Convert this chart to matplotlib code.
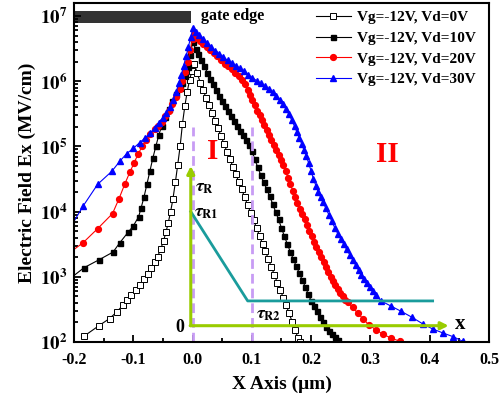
import numpy as np
import matplotlib
matplotlib.use("Agg")
import matplotlib.pyplot as plt
from matplotlib.ticker import MultipleLocator, LogLocator, NullFormatter, FuncFormatter

plt.rcParams['font.family'] = ['Liberation Serif', 'DejaVu Serif']
plt.rcParams['font.weight'] = 'bold'
plt.rcParams['mathtext.fontset'] = 'stix'

# x position (um) and log10 of the field for each bias
# Vd = 0 V
x_vd0 = [-0.183, -0.158, -0.140, -0.128, -0.118, -0.110, -0.103, -0.096, -0.089, -0.082,
         -0.076, -0.070, -0.064, -0.059, -0.054, -0.049, -0.045, -0.041, -0.037, -0.033,
         -0.029, -0.025, -0.021, -0.017, -0.013, -0.009, -0.005, -0.001, 0.003,
         0.008, 0.013, 0.018, 0.023, 0.028, 0.033, 0.038, 0.043, 0.048, 0.053,
         0.058, 0.063, 0.068, 0.073, 0.078, 0.083, 0.088, 0.093, 0.098, 0.103,
         0.108, 0.113, 0.118, 0.123, 0.128, 0.133, 0.138, 0.143, 0.148, 0.153,
         0.158, 0.163, 0.168, 0.173, 0.178, 0.181]
e_vd0 = [2.09, 2.25, 2.36, 2.46, 2.56, 2.64, 2.72, 2.79, 2.87, 2.96,
         3.04, 3.13, 3.22, 3.31, 3.42, 3.55, 3.68, 3.83, 4.00, 4.20,
         4.45, 4.72, 5.00, 5.35, 5.62, 5.84, 6.02, 6.16, 6.27,
         6.12, 5.98, 5.86, 5.74, 5.63, 5.51, 5.39, 5.28, 5.16, 5.04,
         4.92, 4.81, 4.69, 4.57, 4.46, 4.34, 4.22, 4.10, 3.98, 3.87,
         3.75, 3.63, 3.51, 3.39, 3.27, 3.15, 3.03, 2.91, 2.80, 2.68,
         2.56, 2.44, 2.31, 2.18, 2.06, 2.00]

# Vd = 10 V
x_vd10 = [-0.200, -0.183, -0.158, -0.134, -0.123, -0.109, -0.100, -0.091, -0.087, -0.082,
          -0.077, -0.072, -0.067, -0.062, -0.057, -0.052, -0.046, -0.040, -0.034, -0.028,
          -0.022, -0.017, -0.012, -0.008, -0.004, 0.000,
          0.005, 0.010, 0.015, 0.020, 0.025, 0.030, 0.035, 0.040, 0.045, 0.050,
          0.055, 0.060, 0.065, 0.070, 0.075, 0.080, 0.085, 0.090, 0.095, 0.100,
          0.105, 0.110, 0.115, 0.120, 0.125, 0.130, 0.135, 0.140, 0.145, 0.150,
          0.155, 0.160, 0.165, 0.170, 0.175, 0.180, 0.185, 0.190, 0.195, 0.200,
          0.205, 0.210, 0.215, 0.220, 0.225, 0.230, 0.235, 0.240, 0.245]
e_vd10 = [3.02, 3.14, 3.26, 3.38, 3.52, 3.68, 3.78, 3.92, 4.05, 4.22,
          4.42, 4.62, 4.82, 5.00, 5.17, 5.32, 5.45, 5.57, 5.69, 5.80,
          5.90, 5.98, 6.08, 6.22, 6.40, 6.60,
          6.50, 6.41, 6.32, 6.23, 6.13, 6.04, 5.95, 5.86, 5.77, 5.69,
          5.62, 5.55, 5.47, 5.39, 5.31, 5.24, 5.17, 5.10, 5.02, 4.93,
          4.80, 4.68, 4.56, 4.45, 4.35, 4.24, 4.12, 4.00, 3.88, 3.75,
          3.62, 3.50, 3.38, 3.27, 3.16, 3.06, 2.95, 2.85, 2.74, 2.63,
          2.55, 2.47, 2.39, 2.31, 2.23, 2.17, 2.12, 2.07, 2.03]

# Vd = 20 V
x_vd20 = [-0.200, -0.185, -0.160, -0.135, -0.124, -0.114, -0.106, -0.099, -0.092, -0.085,
          -0.078, -0.071, -0.064, -0.058, -0.052, -0.046, -0.040, -0.034, -0.028, -0.022,
          -0.017, -0.012, -0.008, -0.004, 0.000, 0.003,
          0.008, 0.013, 0.018, 0.024, 0.030, 0.036, 0.042, 0.048, 0.054, 0.060,
          0.066, 0.072, 0.078, 0.084, 0.089, 0.093, 0.097, 0.101, 0.105, 0.109,
          0.113, 0.117, 0.121, 0.125, 0.129, 0.133, 0.137, 0.141, 0.145, 0.149,
          0.153, 0.157, 0.161, 0.165, 0.169, 0.173, 0.177, 0.181, 0.185, 0.189,
          0.193, 0.197, 0.201, 0.205, 0.209, 0.213, 0.217, 0.221, 0.225, 0.229,
          0.233, 0.237, 0.241, 0.245, 0.249, 0.253, 0.257, 0.262, 0.270, 0.279,
          0.288, 0.298, 0.309, 0.321, 0.335, 0.350]
e_vd20 = [3.42, 3.52, 3.74, 3.97, 4.20, 4.43, 4.60, 4.74, 4.88, 5.00,
          5.10, 5.19, 5.26, 5.32, 5.38, 5.46, 5.55, 5.65, 5.76, 5.88,
          6.00, 6.14, 6.30, 6.48, 6.64, 6.72,
          6.67, 6.62, 6.57, 6.52, 6.48, 6.43, 6.38, 6.32, 6.27, 6.23,
          6.18, 6.13, 6.08, 6.02, 5.95, 5.87, 5.79, 5.71, 5.63, 5.55,
          5.48, 5.40, 5.33, 5.25, 5.18, 5.10, 5.02, 4.95, 4.87, 4.79,
          4.71, 4.62, 4.52, 4.42, 4.32, 4.22, 4.13, 4.04, 3.96, 3.88,
          3.79, 3.71, 3.63, 3.54, 3.46, 3.38, 3.30, 3.22, 3.15, 3.07,
          3.00, 2.93, 2.87, 2.81, 2.75, 2.70, 2.65, 2.61, 2.53, 2.44,
          2.35, 2.26, 2.19, 2.12, 2.06, 2.01]

# Vd = 30 V
x_vd30 = [-0.200, -0.185, -0.160, -0.136, -0.123, -0.111, -0.100, -0.089, -0.080, -0.072,
          -0.064, -0.057, -0.050, -0.044, -0.038, -0.033, -0.028, -0.023, -0.019, -0.015,
          -0.011, -0.007, -0.003, 0.001,
          0.006, 0.011, 0.017, 0.024, 0.031, 0.038, 0.045, 0.052, 0.059, 0.066,
          0.073, 0.080, 0.087, 0.094, 0.101, 0.108, 0.115, 0.122, 0.129, 0.135,
          0.141, 0.147, 0.152, 0.157, 0.162, 0.167, 0.172, 0.176, 0.180, 0.184,
          0.188, 0.192, 0.196, 0.200, 0.204, 0.208, 0.212, 0.216, 0.220, 0.225,
          0.230, 0.235, 0.240, 0.245, 0.250, 0.255, 0.260, 0.265, 0.270, 0.275,
          0.280, 0.285, 0.290, 0.295, 0.300, 0.305, 0.310, 0.318, 0.335, 0.352,
          0.370, 0.388, 0.405, 0.422, 0.440, 0.456]
e_vd30 = [3.85, 4.08, 4.42, 4.62, 4.77, 4.89, 4.97, 5.06, 5.13, 5.20,
          5.28, 5.36, 5.44, 5.52, 5.61, 5.71, 5.83, 5.97, 6.10, 6.24,
          6.38, 6.53, 6.68, 6.82,
          6.76, 6.71, 6.65, 6.59, 6.53, 6.47, 6.42, 6.37, 6.32, 6.28,
          6.24, 6.20, 6.15, 6.10, 6.05, 6.01, 5.97, 5.93, 5.88, 5.83,
          5.77, 5.71, 5.65, 5.58, 5.50, 5.41, 5.31, 5.22, 5.13, 5.04,
          4.94, 4.85, 4.74, 4.62, 4.50, 4.40, 4.30, 4.22, 4.14, 4.05,
          3.95, 3.85, 3.75, 3.66, 3.58, 3.50, 3.42, 3.34, 3.26, 3.18,
          3.10, 3.03, 2.96, 2.90, 2.84, 2.78, 2.72, 2.63, 2.55, 2.47,
          2.38, 2.28, 2.20, 2.14, 2.08, 2.01]

labels = ['Vg=-12V, Vd=0V', 'Vg=-12V, Vd=10V', 'Vg=-12V, Vd=20V', 'Vg=-12V, Vd=30V']

fig = plt.figure(figsize=(5.02, 3.98), dpi=100)
ax = fig.add_axes([0.1474, 0.1407, 0.8266, 0.8518])

ax.plot(x_vd0, 10 ** np.array(e_vd0), color='black', lw=0.8, marker='s', ms=3.8,
        mfc='white', mec='black', mew=0.7, label=labels[0])
ax.plot(x_vd10, 10 ** np.array(e_vd10), color='black', lw=0.8, marker='s', ms=3.6,
        markevery=slice(1, None), label=labels[1])
ax.plot(x_vd20, 10 ** np.array(e_vd20), color='red', lw=0.8, marker='o', ms=4.2,
        markevery=slice(1, None), label=labels[2])
ax.plot(x_vd30, 10 ** np.array(e_vd30), color='blue', lw=0.8, marker='^', ms=4.8,
        markevery=slice(1, None), label=labels[3])

ax.set_yscale('log')
ax.set_xlim(-0.2, 0.5)
ax.set_ylim(1e2, 10 ** 7.2)

# gate edge bar
ax.fill_between([-0.2, -0.002], 10 ** 6.89, 10 ** 7.07, color='#333333', lw=0)
ax.text(0.014, 10 ** 7.0, 'gate edge', fontsize=11.5, fontweight='bold', va='center', ha='left')

# dashed region borders
for xv in [0.0, 0.1]:
    ax.plot([xv, xv], [1e2, 10 ** 5.3], color='#c89cf4', lw=2, dashes=(3.5, 1.8))

# sketch of the relaxation time
green = '#99cc00'
ax.annotate('', xy=(-0.003, 10 ** 4.7), xytext=(-0.003, 10 ** 2.25),
            arrowprops=dict(arrowstyle='-|>', color=green, lw=2.2, mutation_scale=11,
                            shrinkA=0, shrinkB=0))
ax.annotate('', xy=(0.432, 10 ** 2.25), xytext=(-0.004, 10 ** 2.25),
            arrowprops=dict(arrowstyle='-|>', color=green, lw=2.2, mutation_scale=11,
                            shrinkA=0, shrinkB=0))
ax.plot([-0.003, 0.093, 0.405], [1e4, 10 ** 2.63, 10 ** 2.63], color='#1a9c9c', lw=2)

ax.text(0.004, 10 ** 4.37, r'$\tau_{\mathrm{R}}$', fontsize=13, ha='left', va='center')
ax.text(0.002, 10 ** 3.98, r'$\tau_{\mathrm{R1}}$', fontsize=13, ha='left', va='center')
ax.text(0.107, 10 ** 2.42, r'$\tau_{\mathrm{R2}}$', fontsize=13, ha='left', va='center')
ax.text(-0.022, 10 ** 2.23, '0', fontsize=13, fontweight='bold', ha='center', va='center')
ax.text(0.452, 10 ** 2.27, 'x', fontsize=15, fontweight='bold', ha='center', va='center')

ax.text(0.034, 10 ** 4.92, 'I', fontsize=21, fontweight='bold', color='red', ha='center', va='center')
ax.text(0.328, 10 ** 4.88, 'II', fontsize=21, fontweight='bold', color='red', ha='center', va='center')

# axes styling
ax.xaxis.set_major_locator(MultipleLocator(0.1))
ax.xaxis.set_minor_locator(MultipleLocator(0.05))
ax.xaxis.set_major_formatter(FuncFormatter(lambda v, p: '%.1f' % v))
ax.yaxis.set_major_locator(LogLocator(base=10, numticks=10))
ax.yaxis.set_minor_locator(LogLocator(base=10, subs=np.arange(2, 10), numticks=20))
ax.yaxis.set_minor_formatter(NullFormatter())
ax.yaxis.set_major_formatter(FuncFormatter(lambda v, p: r'$\mathbf{10^{%d}}$' % round(np.log10(v))))

ax.tick_params(which='both', direction='in', top=False, right=False, width=1.3)
ax.tick_params(which='major', length=5)
ax.tick_params(which='minor', length=3)
ax.tick_params(axis='x', labelsize=11.5, pad=7)
ax.tick_params(axis='y', labelsize=13.5, pad=5)
for sp in ax.spines.values():
    sp.set_linewidth(1.5)
for lab in ax.get_xticklabels() + ax.get_yticklabels():
    lab.set_fontweight('bold')

ax.set_xlabel('X Axis (\u03bcm)', fontsize=14, fontweight='bold', labelpad=6)
ax.set_ylabel('Electric Field Ex (MV/cm)', fontsize=14, fontweight='bold', labelpad=3)

ax.legend(loc='upper left', bbox_to_anchor=(0.583, 0.977), frameon=False,
          borderpad=0, borderaxespad=0, handlelength=2.3, handletextpad=0.4,
          labelspacing=0.45, prop={'weight': 'bold', 'size': 11})

fig.savefig('out.png', dpi=100)
